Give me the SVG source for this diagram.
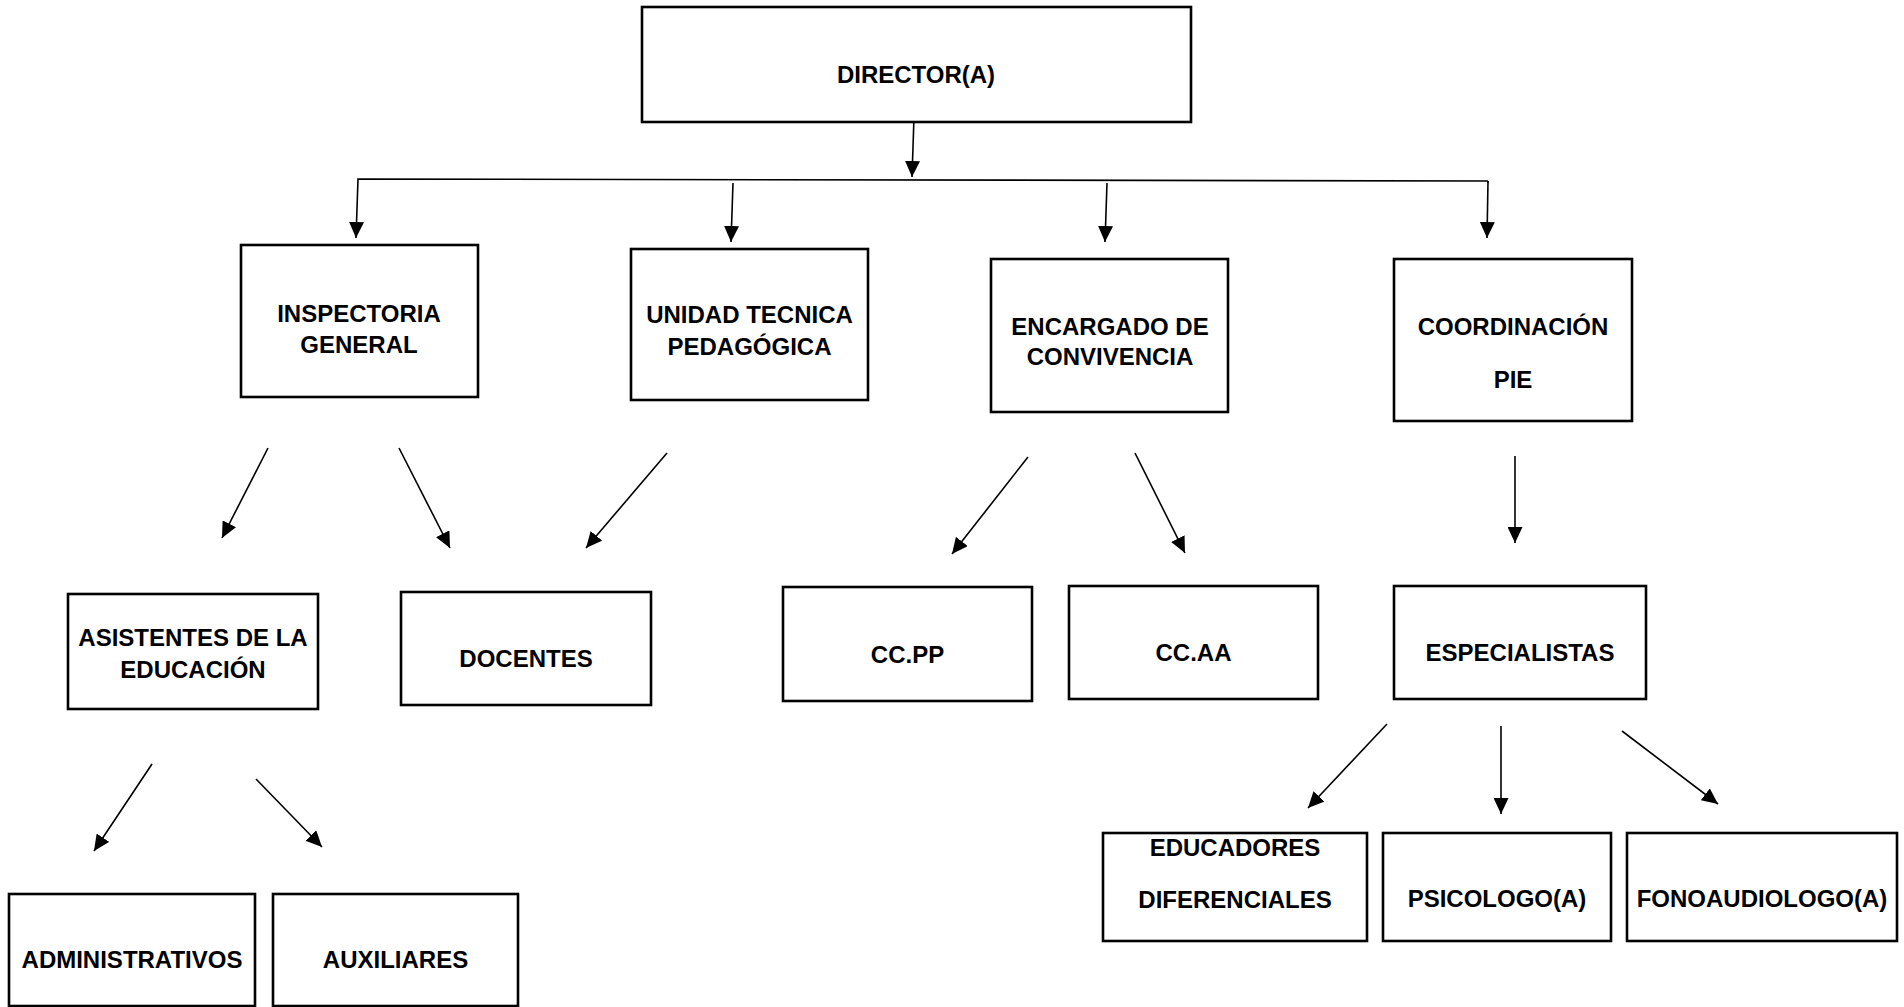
<svg xmlns="http://www.w3.org/2000/svg" width="1904" height="1007" viewBox="0 0 1904 1007">
<style>
.box{fill:#fff;stroke:#000;stroke-width:2.6}
.t{font-family:"Liberation Sans",Arial,sans-serif;font-weight:bold;font-size:24px;fill:#000;text-anchor:middle}
.c{fill:none;stroke:#000;stroke-width:1.6}
.a{marker-end:url(#ah)}
</style>
<defs>
<marker id="ah" markerUnits="userSpaceOnUse" markerWidth="16" markerHeight="15" refX="16" refY="7.5" orient="auto" viewBox="0 0 16 15">
<path d="M0,0 L16,7.5 L0,15 Z" fill="#000"/>
</marker>
</defs>
<rect width="1904" height="1007" fill="#fff"/>
<g id="connectors">
<line class="c a" x1="914" y1="117" x2="912" y2="177"/>
<path class="c a" d="M1488,181 L358,179 L356,238"/>
<line class="c" x1="1488" y1="181" x2="1488" y2="183"/>
<line class="c a" x1="1488" y1="181" x2="1487" y2="238"/>
<line class="c a" x1="733" y1="183" x2="731" y2="242"/>
<line class="c a" x1="1107" y1="183" x2="1105" y2="242"/>
<line class="c a" x1="268" y1="448" x2="222" y2="538"/>
<line class="c a" x1="399" y1="448" x2="450" y2="548"/>
<line class="c a" x1="667" y1="453" x2="586" y2="548"/>
<line class="c a" x1="1028" y1="457" x2="952" y2="554"/>
<line class="c a" x1="1135" y1="453" x2="1185" y2="553"/>
<line class="c a" x1="1515" y1="456" x2="1515" y2="543"/>
<line class="c a" x1="152" y1="764" x2="94" y2="851"/>
<line class="c a" x1="256" y1="779" x2="322" y2="847"/>
<line class="c a" x1="1387" y1="724" x2="1308" y2="808"/>
<line class="c a" x1="1501" y1="726" x2="1501" y2="814"/>
<line class="c a" x1="1622" y1="731" x2="1718" y2="804"/>
</g>
<g id="director"><rect class="box" x="642" y="7" width="549" height="115"/><text class="t" x="916" y="83">DIRECTOR(A)</text></g>
<g id="inspectoria"><rect class="box" x="241" y="245" width="237" height="152"/><text class="t" x="359" y="322">INSPECTORIA</text><text class="t" x="359" y="353">GENERAL</text></g>
<g id="utp"><rect class="box" x="631" y="249" width="237" height="151"/><text class="t" x="749.5" y="323">UNIDAD TECNICA</text><text class="t" x="749.5" y="355">PEDAGÓGICA</text></g>
<g id="encargado"><rect class="box" x="991" y="259" width="237" height="153"/><text class="t" x="1110" y="335">ENCARGADO DE</text><text class="t" x="1110" y="365">CONVIVENCIA</text></g>
<g id="coordinacion"><rect class="box" x="1394" y="259" width="238" height="162"/><text class="t" x="1513" y="335">COORDINACIÓN</text><text class="t" x="1513" y="388">PIE</text></g>
<g id="asistentes"><rect class="box" x="68" y="594" width="250" height="115"/><text class="t" x="193" y="646">ASISTENTES DE LA</text><text class="t" x="193" y="678">EDUCACIÓN</text></g>
<g id="docentes"><rect class="box" x="401" y="592" width="250" height="113"/><text class="t" x="526" y="667">DOCENTES</text></g>
<g id="ccpp"><rect class="box" x="783" y="587" width="249" height="114"/><text class="t" x="907.5" y="663">CC.PP</text></g>
<g id="ccaa"><rect class="box" x="1069" y="586" width="249" height="113"/><text class="t" x="1193.5" y="661">CC.AA</text></g>
<g id="especialistas"><rect class="box" x="1394" y="586" width="252" height="113"/><text class="t" x="1520" y="661">ESPECIALISTAS</text></g>
<g id="administrativos"><rect class="box" x="9" y="894" width="246" height="112"/><text class="t" x="132" y="968">ADMINISTRATIVOS</text></g>
<g id="auxiliares"><rect class="box" x="273" y="894" width="245" height="112"/><text class="t" x="395.5" y="968">AUXILIARES</text></g>
<g id="educadores"><rect class="box" x="1103" y="833" width="264" height="108"/><text class="t" x="1235" y="856">EDUCADORES</text><text class="t" x="1235" y="908">DIFERENCIALES</text></g>
<g id="psicologo"><rect class="box" x="1383" y="833" width="228" height="108"/><text class="t" x="1497" y="907">PSICOLOGO(A)</text></g>
<g id="fonoaudiologo"><rect class="box" x="1627" y="833" width="270" height="108"/><text class="t" x="1762" y="907">FONOAUDIOLOGO(A)</text></g>
</svg>
